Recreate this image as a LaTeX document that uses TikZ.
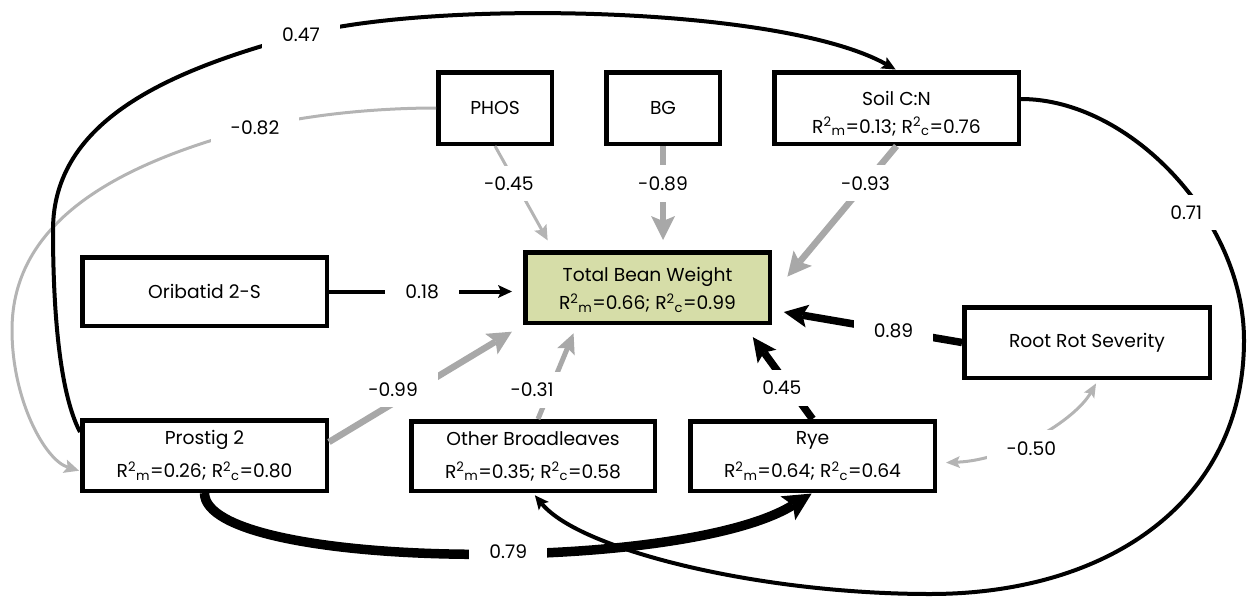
\documentclass[tikz,border=0pt]{standalone}
\usepackage{fontspec}
\setmainfont{Poppins}
\usetikzlibrary{arrows.meta,calc}
\definecolor{beanfill}{RGB}{214,221,168}
\definecolor{pathgray}{RGB}{168,168,168}
\definecolor{softgray}{RGB}{180,180,180}
\newcommand\rsqr[1]{R\textsuperscript{2}\textsubscript{#1}}
% invisible strut that lowers a two-line block inside its box
\newcommand\lowerby[1]{\rule{0pt}{#1}}
\begin{document}
\begin{tikzpicture}[x=1pt,y=-1pt,
  txt/.style={font=\fontsize{18.7}{28}\selectfont},
  box/.style 2 args={draw, line width=4.5pt, align=center, inner sep=0pt,
    minimum width=#1, minimum height=#2, txt},
  lowbox/.style={font=\fontsize{18.7}{33}\selectfont},
  lab/.style={fill=white, inner xsep=20pt, inner ysep=11pt, txt},
  gthin/.style={draw=softgray, line width=3pt,
    -{Stealth[length=15pt,width=14pt,inset=3pt,line width=0pt]}},
  gmid/.style={draw=pathgray, line width=5pt,
    -{Stealth[length=20pt,width=19pt,inset=4pt,line width=0pt]}},
  gthick/.style={draw=pathgray, line width=6.5pt,
    -{Stealth[length=24pt,width=24pt,inset=5pt,line width=0pt]}},
  bthin/.style={draw=black, line width=4pt,
    -{Stealth[length=14pt,width=13pt,inset=3pt,line width=0pt]}},
  bthick/.style={draw=black, line width=7.5pt,
    -{Stealth[length=24pt,width=23pt,inset=5pt,line width=0pt]}},
  bheavy/.style={draw=black, line width=9.5pt,
    -{Stealth[length=28pt,width=28pt,inset=6pt,line width=0pt]}}]

\useasboundingbox (0,0) rectangle (1247,597);

% ---- variables ----
\node[box={113.5pt}{71.5pt}] (phos) at (495,108) {PHOS};
\node[box={113.5pt}{71.5pt}] (bg) at (663,108) {BG};
\node[box={244.5pt}{71.5pt}] (soil) at (896.5,108) {\lowerby{25pt}Soil C:N\\\rsqr{m}=0.13; \rsqr{c}=0.76};
\node[box={244.5pt}{68.5pt}] (orib) at (204.5,291.5) {Oribatid 2-S};
\node[box={244.5pt}{70.5pt}, fill=beanfill] (tbw) at (647.5,287.5) {\lowerby{19pt}Total Bean Weight\\\rsqr{m}=0.66; \rsqr{c}=0.99};
\node[box={245.5pt}{70.5pt}] (rrs) at (1087,342.5) {Root Rot Severity};
\node[box={244.5pt}{70.5pt}, lowbox] (pro) at (204.5,455.5) {Prostig 2\\\rsqr{m}=0.26; \rsqr{c}=0.80};
\node[box={243.5pt}{69.5pt}, lowbox] (ob) at (533,456) {Other Broadleaves\\\rsqr{m}=0.35; \rsqr{c}=0.58};
\node[box={244.5pt}{69.5pt}, lowbox] (rye) at (812.5,456) {Rye\\\rsqr{m}=0.64; \rsqr{c}=0.64};

% ---- negative paths (grey) ----
\draw[gthin, shorten >=11pt] (phos.south) -- ($(tbw.north west)+(30,0)$)
  node[lab, pos=0.36, xshift=-7pt] {-0.45};
\draw[gthick, shorten >=10pt] (bg.south) -- (bg.south |- tbw.north)
  node[lab, pos=0.36] {-0.89};
\draw[gthick, shorten >=24pt] (soil.south) -- ($(tbw.north east)+(0,45)$)
  node[lab, pos=0.25] {-0.93};
\draw[gmid, shorten >=9pt] ($(ob.north)+(5,0)$) -- ($(tbw.south west)+(54,0)$)
  node[lab, pos=0.31, xshift=-18pt] {-0.31};
\draw[gthick, shorten >=13pt] ($(pro.north east)+(0,24)$) -- (tbw.south west)
  node[lab, pos=0.33, yshift=14pt] {-0.99};
\draw[gthin, {Stealth[length=14pt,width=12pt,inset=3pt,line width=0pt]}-{Stealth[length=14pt,width=12pt,inset=3pt,line width=0pt]},
      shorten <=9pt, shorten >=4pt]
  ($(rye.east)+(0,7)$) .. controls (1010,460) and (1075,420) .. ($(rrs.south)+(11,0)$)
  node[lab, pos=0.5, xshift=-5pt, yshift=-13pt] {-0.50};
\draw[gthin, shorten >=1pt] (phos.west) .. controls (380,108) and (310,114) .. (255,128)
  node[lab] {-0.82}
  .. controls (120,163) and (12,220) .. (12,330)
  .. controls (12,400) and (45,460) .. ($(pro.west)+(0,15.5)$);

% ---- positive paths (black) ----
\draw[bthin, shorten >=11pt] (orib.east) -- (orib.east -| tbw.west)
  node[lab, pos=0.48] {0.18};
\draw[bthick, shorten >=12pt] (rrs.west) -- ($(tbw.east)+(0,22.5)$)
  node[lab, pos=0.36] {0.89};
\draw[bthick, shorten >=15pt] (rye.north) -- ($(tbw.south east)+(-28,0)$)
  node[lab, pos=0.33, xshift=-8pt] {0.45};
\draw[bheavy, shorten >=1pt] (pro.south) .. controls (205,570) and (680,575) .. (rye.south)
  node[lab, pos=0.56] {0.79};
\draw[bthin, shorten >=1pt] ($(pro.north west)+(0,14)$) .. controls (58,390) and (53,300) .. (53,230)
  .. controls (53,120) and (170,70) .. (301,35)
  node[lab] {0.47}
  .. controls (430,0) and (780,5) .. (soil.north);
\draw[bthin, shorten >=3pt] ($(soil.east)+(0,-9)$) .. controls (1130,99) and (1244,220) .. (1244,340)
  node[lab, pos=0.63, xshift=-17pt] {0.71}
  .. controls (1244,500) and (1110,594) .. (930,594)
  .. controls (760,594) and (580,550) .. (ob.south);

\end{tikzpicture}
\end{document}
